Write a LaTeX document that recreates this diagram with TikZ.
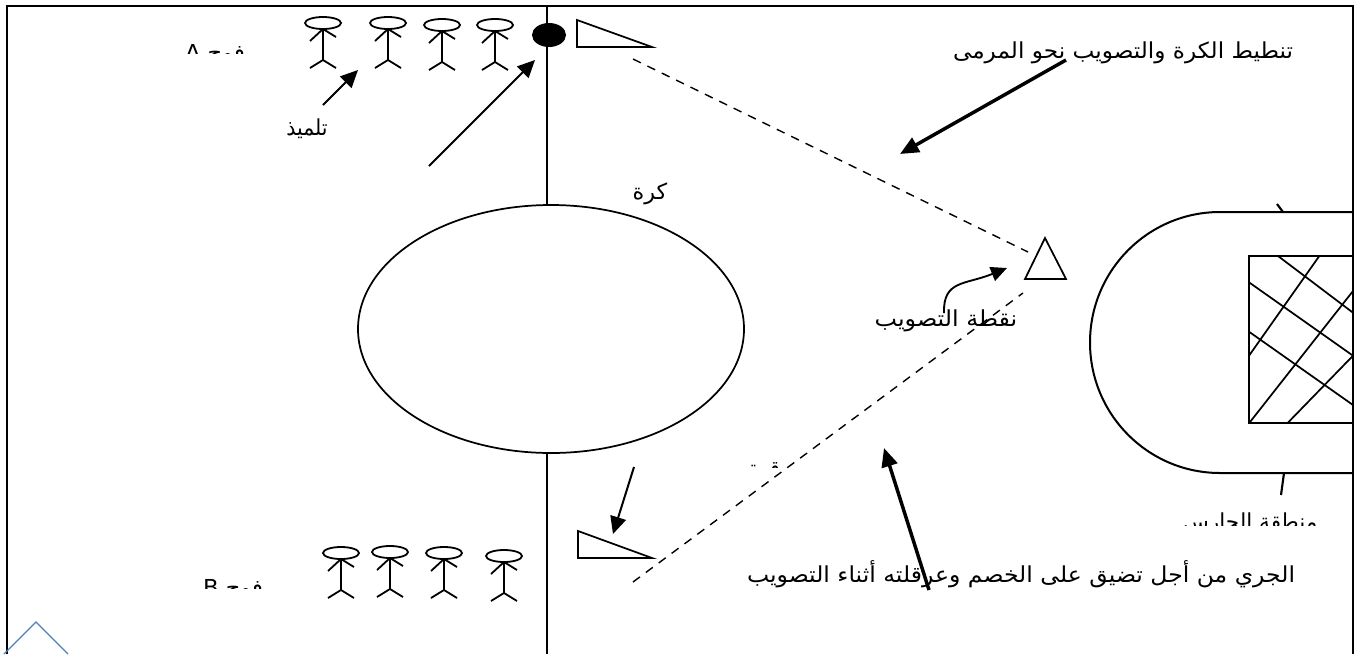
\documentclass[tikz,border=0pt]{standalone}
\usepackage{graphicx}
\usepackage{fontspec}
\usetikzlibrary{arrows.meta}
\TeXXeTstate=1
\newfontfamily\arabicfont[Script=Arabic]{DejaVu Sans}
\newcommand\artext[2]{\resizebox{#1}{\height}{\arabicfont\fontsize{16.5}{20}\selectfont #2}}
\definecolor{chev}{HTML}{4F81BD}
\tikzset{
  label text/.style={inner sep=0pt,outer sep=0pt,text=black},
  thin arrow/.style={line width=1.5pt,-{Triangle[length=13pt,width=12pt]}},
  thick arrow/.style={line width=2.6pt,-{Triangle[length=14pt,width=12pt]}},
  dash line/.style={line width=1.05pt,dash pattern=on 6.5pt off 5.5pt},
  stickman/.pic={
    \draw[line width=1.35pt] (0,0) ellipse [x radius=18,y radius=6];
    \draw[line width=1.35pt] (0,6) -- (0,37) (-13,45) -- (0,37) -- (13,45)
      (-13,18) -- (0,6) -- (13,14);
  }
}
\begin{document}
\begin{tikzpicture}[x=0.75pt,y=-0.75pt,line width=1.3pt]
\useasboundingbox (0,0) rectangle (1360,654);
\fill[white] (0,0) rectangle (1360,654);
% frame
\coordinate (fbl) at (7,654); \coordinate (ftl) at (7,6);
\coordinate (ftr) at (1353,6); \coordinate (fbr) at (1353,654);
\draw[line width=1.7pt] (fbl) -- (ftl) -- (ftr) -- (fbr);
% centre circle and line
\draw (551,329) ellipse [x radius=193,y radius=124];
\coordinate (ctop) at (547,6); \coordinate (cup) at (547,205);
\coordinate (cdn) at (547,453); \coordinate (cbot) at (547,654);
\draw (ctop) -- (cup) (cdn) -- (cbot);
% ball
\fill (549,35) ellipse [x radius=17,y radius=12];
% cones
\draw (577,20) -- (652,47) -- (577,47) -- cycle;
\draw (578,531) -- (652,558) -- (578,558) -- cycle;
\draw (1045,238) -- (1066,279) -- (1025,279) -- cycle;
% players
\foreach \px/\py in {323/23,388/23,442/25,495/25,341/553,390/552,444/553,504/556}
  \pic at (\px,\py) {stickman};
% keeper area
\draw[line width=1.5pt] (1353,212) -- (1220,212) arc[start angle=270,end angle=90,x radius=130,y radius=130.5] -- (1353,473);
\draw (1353,256) -- (1249,256) -- (1249,423) -- (1353,423);
\draw (1278,256) -- (1353,312.7)
      (1249,282.3) -- (1353,355.7)
      (1249,331.7) -- (1353,405)
      (1319.3,256) -- (1249,355.7)
      (1353,291) -- (1249,423.3)
      (1353,355.7) -- (1287.3,423.3);
\draw[line width=1.6pt] (1277,204) -- (1283,212) (1284,473) -- (1281,495);
% dashed lines
\coordinate (d1a) at (633,59); \coordinate (d1b) at (1028,252);
\coordinate (d2a) at (633,582); \coordinate (d2b) at (1023,293);
\draw[dash line] (d1a) -- (d1b);
\draw[dash line] (d2a) -- (d2b);
% arrows
\coordinate (a1a) at (323,105); \coordinate (a1b) at (358,70);
\coordinate (a2a) at (429,166); \coordinate (a2b) at (535,60);
\coordinate (a3a) at (1066,60); \coordinate (a3b) at (900,154);
\coordinate (a4a) at (634,467); \coordinate (a4b) at (613,534);
\coordinate (a5a) at (929,590); \coordinate (a5b) at (884,448);
\draw[thin arrow] (a1a) -- (a1b);
\draw[thin arrow] (a2a) -- (a2b);
\draw[thick arrow] (a3a) -- (a3b);
\draw[thin arrow] (a4a) -- (a4b);
\draw[thick arrow] (a5a) -- (a5b);
\coordinate (a6a) at (944,313); \coordinate (a6b) at (1007,268);
\draw[line width=1.4pt,-{Triangle[length=12pt,width=11pt]}] (a6a) .. controls (943,280) and (965,285) .. (a6b);
% texts
\node[label text] (t1) at (1123,53) {\artext{255pt}{\beginR تنطيط الكرة والتصويب نحو المرمى\endR}};
\node[label text] (t2) at (307,129) {\artext{31pt}{\beginR تلميذ\endR}};
\node[label text] (t3) at (650,194) {\artext{26pt}{\beginR كرة\endR}};
\node[label text] (t4) at (946,321) {\artext{107pt}{\beginR نقطة التصويب\endR}};
\node[label text] (t5) at (1021,574) {\artext{411pt}{\beginR الجري من أجل تضيق على الخصم وعرقلته أثناء التصويب\endR}};
\begin{scope}
\clip (150,30) rectangle (300,53);
\node[label text] (t6) at (215,55) {\artext{45pt}{\beginR فوج \beginL A\endL\endR}};
\end{scope}
\begin{scope}
\clip (150,560) rectangle (300,588);
\node[label text] (t7) at (233,590) {\artext{45pt}{\beginR فوج \beginL B\endL\endR}};
\end{scope}
\begin{scope}
\clip (720,440) rectangle (800,467);
\node[label text] (t8) at (764,470) {\artext{24pt}{\beginR قمة\endR}};
\end{scope}
\begin{scope}
\clip (1150,500) rectangle (1340,525);
\node[label text] (t9) at (1250,524) {\artext{101pt}{\beginR منطقة الحارس\endR}};
\end{scope}
% chevron
\coordinate (c1) at (4,654); \coordinate (c2) at (36,622); \coordinate (c3) at (68,654);
\draw[chev,line width=1pt] (c1) -- (c2) -- (c3);
\end{tikzpicture}
\end{document}
